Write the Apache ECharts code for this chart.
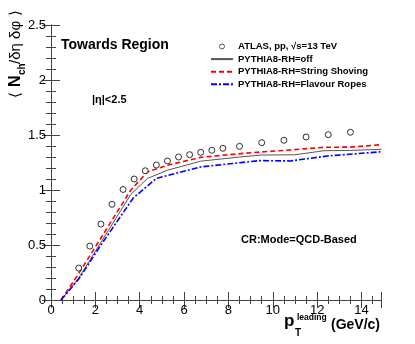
<!DOCTYPE html>
<html>
<head>
<meta charset="utf-8">
<script src="https://cdn.jsdelivr.net/npm/echarts@6/dist/echarts.min.js"></script>
<style>
  html, body { margin: 0; padding: 0; background: #fff; }
  #chart { width: 415px; height: 344px; }
</style>
</head>
<body>
<div id="chart"></div>
<script>
// ATLAS data points (bin centres)
const atlasX = [1.25, 1.75, 2.25, 2.75, 3.25, 3.75, 4.25, 4.75, 5.25, 5.75, 6.25, 6.75, 7.25, 7.75, 8.5, 9.5, 10.5, 11.5, 12.5, 13.5];
const atlasY = [0.29, 0.49, 0.69, 0.87, 1.005, 1.10, 1.175, 1.227, 1.264, 1.30, 1.321, 1.343, 1.361, 1.379, 1.397, 1.43, 1.452, 1.482, 1.503, 1.525];

// PYTHIA8 curves
const offX = [0.45, 1.25, 3.6, 4.35, 5.25, 6.75, 8.5, 9.5, 11, 12.3, 13.5, 14.9];
const offY = [0, 0.2, 0.96, 1.105, 1.18, 1.262, 1.30, 1.318, 1.32, 1.357, 1.36, 1.37];
const shovX = [0.45, 1.25, 3.6, 4.35, 5.25, 6.75, 9, 10.5, 12.3, 13.5, 14.9];
const shovY = [0, 0.24, 1.0, 1.165, 1.225, 1.297, 1.339, 1.36, 1.388, 1.39, 1.412];
const ropeX = [0.45, 1.25, 2.25, 3.7, 4.75, 6.75, 9.4, 10.8, 12.45, 14.9];
const ropeY = [0, 0.19, 0.50, 0.925, 1.106, 1.21, 1.267, 1.264, 1.309, 1.348];

const xTicks = [0, 2, 4, 6, 8, 10, 12, 14];
const seriesNames = ["ATLAS, pp, \u221As=13 TeV", "PYTHIA8-RH=off", "PYTHIA8-RH=String Shoving", "PYTHIA8-RH=Flavour Ropes"];

const font = "Liberation Sans";
const pair = (xs, ys) => xs.map((x, i) => [x, ys[i]]);

const chart = echarts.init(document.getElementById("chart"));

const axisCommon = {
  axisLine: { lineStyle: { color: "#444", width: 1 } },
  splitLine: { show: false }
};

const option = {
  animation: false,
  grid: { left: 51, right: 33.5, top: 25, bottom: 44 },
  legend: {
    left: 205,
    top: 36,
    orient: "vertical",
    itemWidth: 22,
    itemHeight: 5,
    itemGap: 1.6,
    textStyle: { fontFamily: font, fontWeight: "bold", fontSize: 9.5, color: "#000", lineHeight: 11 },
    data: [
      { name: seriesNames[0], icon: "circle", itemStyle: { color: "#fff", borderColor: "#000", borderWidth: 0.8 } },
      { name: seriesNames[1], itemStyle: { opacity: 0 } },
      { name: seriesNames[2], itemStyle: { opacity: 0 } },
      { name: seriesNames[3], itemStyle: { opacity: 0 } }
    ]
  },
  xAxis: [
    {
      type: "value", min: 0, max: 14.9, interval: 2,
      ...axisCommon,
      axisTick: { inside: true, length: 8, lineStyle: { color: "#444" } },
      minorTick: { show: true, splitNumber: 4, length: 4, lineStyle: { color: "#444" } },
      axisLabel: {
        fontFamily: font, fontSize: 13, color: "#000", margin: 4,
        formatter: v => (xTicks.indexOf(v) >= 0 ? String(v) : "")
      }
    },
    {
      type: "value", position: "top", min: 0, max: 14.9, interval: 2,
      ...axisCommon,
      axisTick: { inside: true, length: 8, lineStyle: { color: "#444" } },
      minorTick: { show: true, splitNumber: 4, length: 4, lineStyle: { color: "#444" } },
      axisLabel: { show: false }
    }
  ],
  yAxis: [
    {
      type: "value", min: 0, max: 2.5, interval: 0.5,
      ...axisCommon,
      axisTick: { inside: true, length: 9, lineStyle: { color: "#444" } },
      minorTick: { show: true, splitNumber: 5, length: 5, lineStyle: { color: "#444" } },
      axisLabel: { fontFamily: font, fontSize: 13, color: "#000", margin: 5 }
    },
    {
      type: "value", position: "right", min: 0, max: 2.5, interval: 0.5,
      ...axisCommon,
      axisTick: { inside: true, length: 9, lineStyle: { color: "#444" } },
      minorTick: { show: true, splitNumber: 5, length: 5, lineStyle: { color: "#444" } },
      axisLabel: { show: false }
    }
  ],
  series: [
    {
      name: seriesNames[0], type: "scatter", symbol: "circle", symbolSize: 6,
      itemStyle: { color: "#fff", borderColor: "#000", borderWidth: 1 },
      data: pair(atlasX, atlasY), z: 5
    },
    {
      name: seriesNames[1], type: "line", symbol: "none",
      lineStyle: { color: "#555", width: 1 },
      itemStyle: { color: "#555" },
      data: pair(offX, offY)
    },
    {
      name: seriesNames[2], type: "line", symbol: "none",
      lineStyle: { color: "#ff0000", width: 1.6, type: [5, 3] },
      itemStyle: { color: "#ff0000" },
      data: pair(shovX, shovY)
    },
    {
      name: seriesNames[3], type: "line", symbol: "none",
      lineStyle: { color: "#0000ff", width: 1.6, type: [6, 2, 2, 2] },
      itemStyle: { color: "#0000ff" },
      data: pair(ropeX, ropeY)
    }
  ],
  graphic: [
    { type: "text", left: 61, top: 38, style: { text: "Towards Region", font: "bold 14px " + font, fill: "#000" } },
    { type: "text", left: 92, top: 94, style: { text: "|\u03b7|<2.5", font: "bold 11px " + font, fill: "#000" } },
    { type: "text", left: 241, top: 234, style: { text: "CR:Mode=QCD-Based", font: "bold 11px " + font, fill: "#000" } },
    // y-axis title, rotated
    {
      type: "group", x: 16, y: 98, rotation: Math.PI / 2,
      children: [
        { type: "text", x: 0, y: 0, style: { text: "\u27e8", font: "15px " + font, fill: "#000", verticalAlign: "middle" } },
        { type: "text", x: 11, y: 0, style: { text: "N", font: "bold 16px " + font, fill: "#000", verticalAlign: "middle" } },
        { type: "text", x: 23, y: 6, style: { text: "ch", font: "bold 10px " + font, fill: "#000", verticalAlign: "middle" } },
        { type: "text", x: 34, y: 0, style: { text: "/\u03b4\u03b7 \u03b4\u03c6", font: "15px " + font, fill: "#000", verticalAlign: "middle" } },
        { type: "text", x: 82, y: 0, style: { text: "\u27e9", font: "15px " + font, fill: "#000", verticalAlign: "middle" } }
      ]
    },
    // x-axis title
    { type: "text", x: 284, y: 321, style: { text: "p", font: "bold 17px " + font, fill: "#000", verticalAlign: "middle" } },
    { type: "text", x: 297, y: 318, style: { text: "leading", font: "bold 8.5px " + font, fill: "#000", verticalAlign: "middle" } },
    { type: "text", x: 295, y: 333, style: { text: "T", font: "bold 10px " + font, fill: "#000", verticalAlign: "middle" } },
    { type: "text", x: 331, y: 325, style: { text: "(GeV/c)", font: "bold 14px " + font, fill: "#000", verticalAlign: "middle" } }
  ]
};

chart.setOption(option);
</script>
</body>
</html>
